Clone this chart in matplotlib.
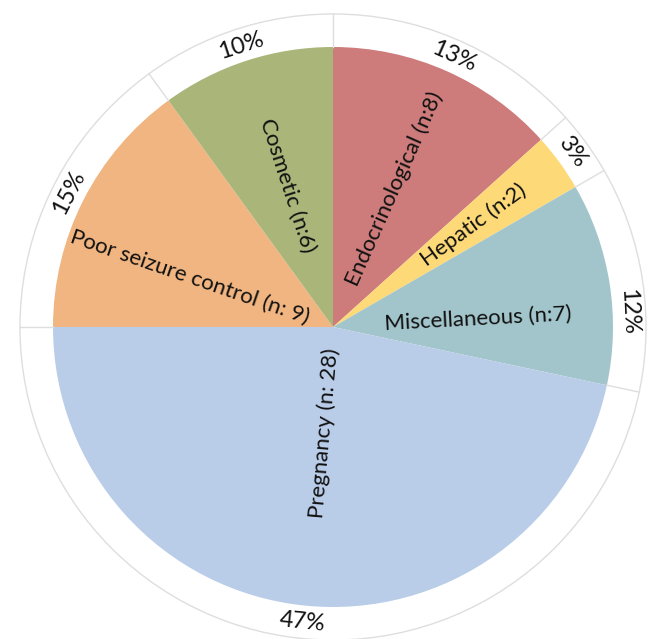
import numpy as np
import matplotlib
matplotlib.use("Agg")
import matplotlib.pyplot as plt
from matplotlib.patches import Circle

# --- Data: reasons for switching, clockwise from 12 o'clock ---
reasons = ['Endocrinological', 'Hepatic', 'Miscellaneous', 'Pregnancy',
           'Poor seizure control', 'Cosmetic']
counts = [8, 2, 7, 28, 9, 6]
slice_labels = ['Endocrinological (n:8)', 'Hepatic (n:2)', 'Miscellaneous (n:7)',
                'Pregnancy (n: 28)', 'Poor seizure control (n: 9)', 'Cosmetic (n:6)']

# --- Style / layout ---
colors = ['#cd7b7b', '#fdd978', '#a2c5cb', '#b9cde8', '#f0b580', '#aab57a']
label_shift = [0, 0, -6, 1, 8, 0]          # degrees, nudges for the inner labels
label_radius = [0.54, 0.62, 0.52, 0.38, 0.54, 0.53]
pct_shift = [0, 0, -6, 0, 0, 0]
pct_radius = 1.058
ring_radius = 1.118

plt.rcParams['font.family'] = ['Lato', 'DejaVu Sans']

fig = plt.figure(figsize=(6.52, 6.39), dpi=100)
ax = fig.add_axes([0, 0, 1, 1])
ax.axis('off')

wedges, _ = ax.pie(counts, colors=colors, startangle=90, counterclock=False,
                   radius=1, wedgeprops=dict(linewidth=0))
# centre at (333, 327) px, pie radius 280 px
ax.set_xlim(-333 / 280, (652 - 333) / 280)
ax.set_ylim((327 - 639) / 280, 327 / 280)
ax.set_aspect('auto')

# outer ring with dividers at slice boundaries
ax.add_patch(Circle((0, 0), ring_radius, fill=False, edgecolor='#dedede', lw=1))
for w in wedges:
    a = np.deg2rad(w.theta1)
    ax.plot([np.cos(a), ring_radius * np.cos(a)], [np.sin(a), ring_radius * np.sin(a)],
            color='#dedede', lw=1)

total = sum(counts)


def upright(rot):
    rot = (rot + 180) % 360 - 180
    if rot > 90:
        rot -= 180
    elif rot < -90:
        rot += 180
    return rot


for i, w in enumerate(wedges):
    mid = (w.theta1 + w.theta2) / 2

    # radial label inside the slice
    ang = mid + label_shift[i]
    r = label_radius[i]
    ax.text(r * np.cos(np.deg2rad(ang)), r * np.sin(np.deg2rad(ang)), slice_labels[i],
            rotation=upright(ang), rotation_mode='anchor', ha='center', va='center',
            fontsize=16, color='#111111')

    # percentage along the ring
    pang = mid + pct_shift[i]
    pct = round(counts[i] / total * 100)
    ax.text(pct_radius * np.cos(np.deg2rad(pang)), pct_radius * np.sin(np.deg2rad(pang)),
            f'{pct}%', rotation=upright(pang - 90), rotation_mode='anchor',
            ha='center', va='center', fontsize=17, color='#111111')

fig.savefig('out.png', dpi=100)
